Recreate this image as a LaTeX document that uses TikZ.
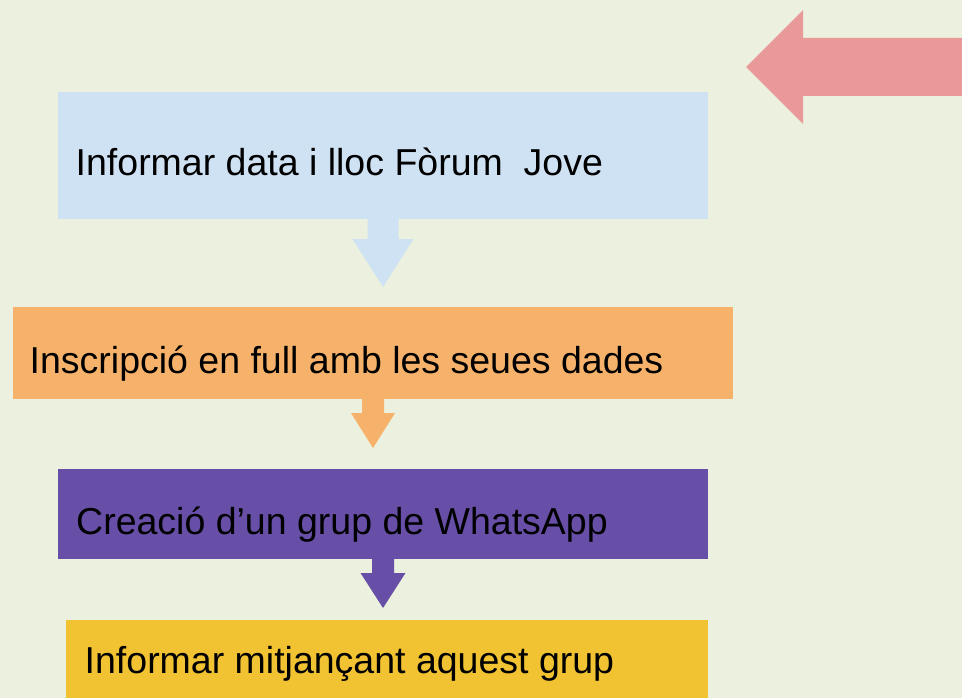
\documentclass[tikz,border=0pt]{standalone}
\usepackage{fontspec}
\setmainfont{Liberation Sans}
\usetikzlibrary{calc}
\definecolor{bggreen}{HTML}{EBF1DE}
\definecolor{boxblue}{HTML}{CFE2F3}
\definecolor{boxorange}{HTML}{F6B26B}
\definecolor{boxpurple}{HTML}{674EA7}
\definecolor{boxyellow}{HTML}{F1C232}
\definecolor{arrowpink}{HTML}{EA9999}

% block arrow hanging below a box: colour, node, half shaft, shaft length, half head, head length
\newcommand{\flowarrow}[6]{%
\fill[#1] ($(#2.south)+(-#3,0)$) -- ++(0,#4) -- ++(#3-#5,0) -- ++(#5,#6) -- ++(#5,-#6) -- ++(#3-#5,0) -- ++(0,-#4) -- cycle;}

\begin{document}
\begin{tikzpicture}[x=1pt, y=-1pt,
block/.style = {rectangle, anchor=north west, inner sep=0pt, outer sep=0pt},
txt/.style = {anchor=base west, inner sep=0pt, font=\fontsize{37.5}{45}\selectfont}]
\fill[bggreen] (0,0) rectangle (962,698);
\useasboundingbox (0,0) rectangle (962,698);

\node[block, fill=boxblue, minimum width=650pt, minimum height=127pt] at (58,92) (inform) {};
\node[block, fill=boxorange, minimum width=720pt, minimum height=92pt] at (13,307) (signup) {};
\node[block, fill=boxpurple, minimum width=650pt, minimum height=90pt] at (58,469) (group) {};
\node[block, fill=boxyellow, minimum width=642pt, minimum height=78pt] at (66,620) (notify) {};

\node[txt] at (75.5,176) (informtxt) {Informar data i lloc Fòrum\ \ Jove};
\node[txt] at (29.5,373) (signuptxt) {Inscripció en full amb les seues dades};
\node[txt] at (76,534) (grouptxt) {Creació d’un grup de WhatsApp};
\node[txt] at (84.5,673) (notifytxt) {Informar mitjançant aquest grup};

\flowarrow{boxblue}{inform}{15.5}{20}{30.5}{48}
\flowarrow{boxorange}{signup}{11}{14}{22}{35}
\flowarrow{boxpurple}{group}{11}{14}{22.5}{35}

% arrow at the top right
\fill[arrowpink] (962,38) -- (803,38) -- (803,10) -- (746,67) -- (803,124) -- (803,96) -- (962,96) -- cycle;
\end{tikzpicture}
\end{document}
